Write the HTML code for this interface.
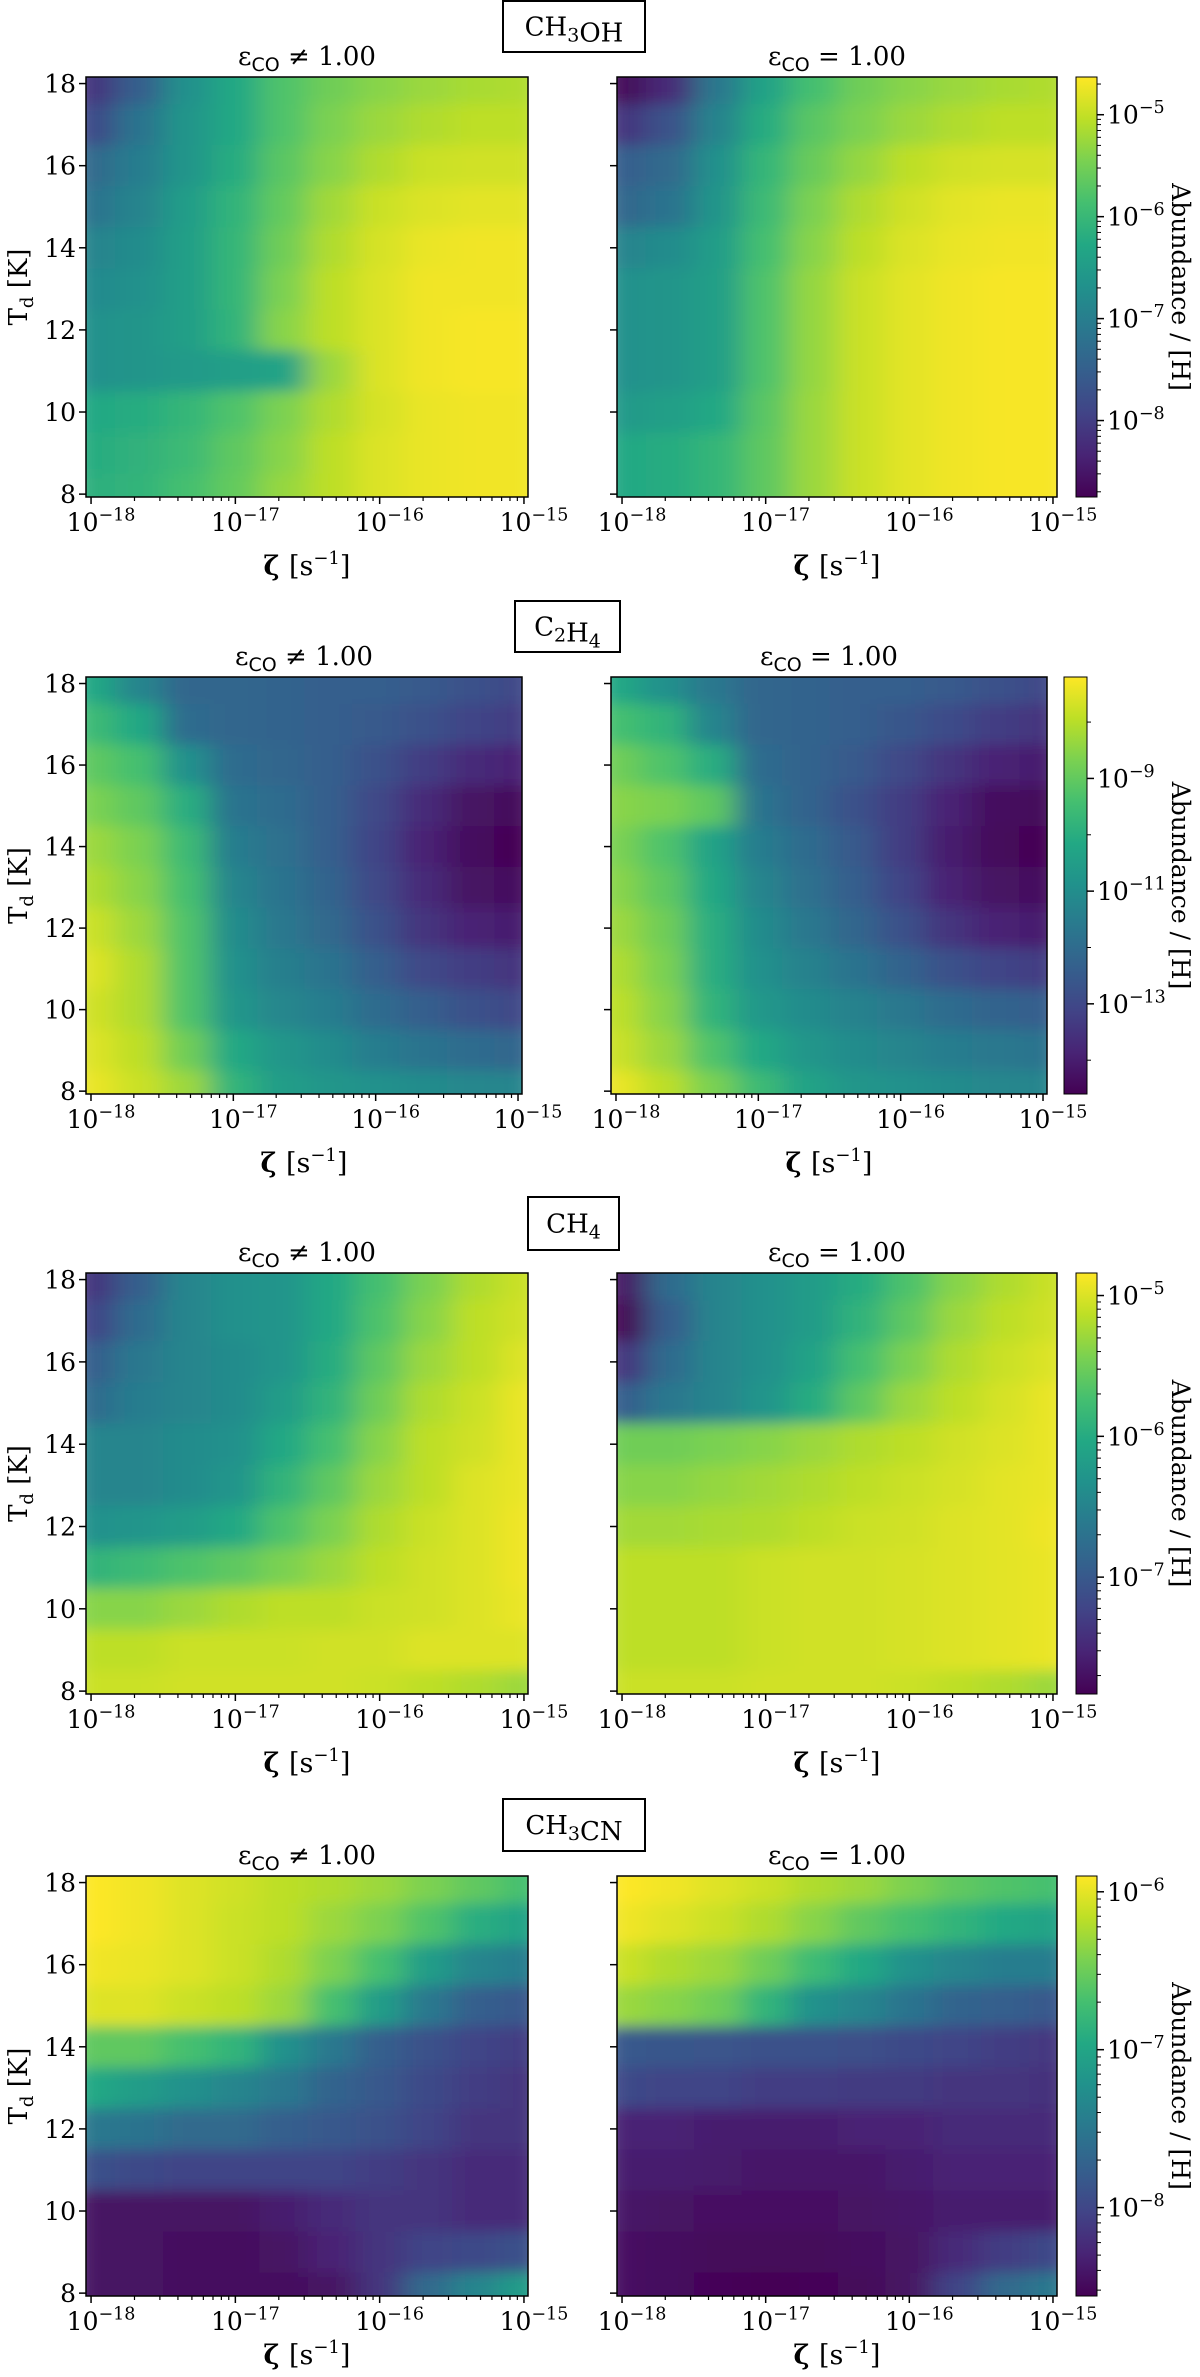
<!DOCTYPE html>
<html><head><meta charset="utf-8"><title>Abundance maps</title>
<style>
html,body{margin:0;padding:0;background:#fff;}
svg{display:block;}
text{font-family:"DejaVu Serif","Liberation Serif",serif;fill:#000;}
.sans{font-family:"DejaVu Sans","Liberation Sans",sans-serif;}
</style></head>
<body>
<svg id="fig" xmlns="http://www.w3.org/2000/svg" width="1200" height="2377" viewBox="0 0 1200 2377">
<defs><filter id="smooth" x="-5%" y="-5%" width="110%" height="110%"><feGaussianBlur stdDeviation="14 7" edgeMode="duplicate"/></filter></defs>
</svg>
<script>
// ---- data ----
const zetaLogCenters = [-18,-17.667,-17.333,-17,-16.667,-16.333,-16,-15.667,-15.333,-15];
const tdCenters = [18,17,16,15,14,13,12,11,10,9,8];
const xTickLogs = [-18,-17,-16,-15];
const xTickLabels = ["−18","−17","−16","−15"];
const yTicks = [8,10,12,14,16,18];
const species = ["CH3OH","C2H4","CH4","CH3CN"];
const cbarMin = [-8.75,-14.6,-7.83,-8.56];
const cbarMax = [-4.63,-7.2,-4.84,-5.9];
const cbarTicks1 = [-8,-7,-6,-5];
const cbarTicks2 = [-13,-11,-9];
const cbarTicks3 = [-7,-6,-5];
const cbarTicks4 = [-8,-7,-6];

// log10 abundance, rows T=18..8, cols log zeta -18..-15
const ch3ohFree = [
[-8.13,-7.51,-6.69,-6.28,-5.78,-5.54,-5.37,-5.25,-5.17,-5.12],
[-7.84,-7.18,-6.61,-6.28,-5.78,-5.45,-5.25,-5.12,-5.04,-5.04],
[-7.31,-7.02,-6.61,-6.2,-5.7,-5.37,-5.12,-4.96,-4.92,-4.92],
[-7.18,-6.9,-6.48,-6.07,-5.62,-5.21,-4.96,-4.84,-4.8,-4.8],
[-6.9,-6.77,-6.44,-6.03,-5.54,-5.12,-4.88,-4.75,-4.71,-4.71],
[-6.81,-6.69,-6.44,-6.03,-5.45,-5.04,-4.84,-4.71,-4.71,-4.71],
[-6.69,-6.61,-6.44,-6.07,-5.37,-5.04,-4.84,-4.71,-4.67,-4.67],
[-6.69,-6.61,-6.53,-6.44,-6.36,-5.25,-4.84,-4.71,-4.67,-4.67],
[-6.28,-6.2,-6.03,-5.78,-5.45,-5.12,-4.88,-4.75,-4.71,-4.71],
[-6.2,-6.11,-5.95,-5.66,-5.37,-5.04,-4.84,-4.75,-4.71,-4.71],
[-6.15,-6.07,-5.87,-5.62,-5.29,-5.04,-4.84,-4.75,-4.71,-4.71]];
const ch3ohFixed = [
[-8.67,-8.26,-7.1,-6.36,-5.87,-5.54,-5.37,-5.25,-5.17,-5.12],
[-8.13,-7.72,-6.9,-6.2,-5.7,-5.45,-5.25,-5.12,-5.04,-5.04],
[-7.51,-7.31,-6.69,-6.03,-5.58,-5.29,-5.04,-4.92,-4.88,-4.88],
[-7.39,-7.18,-6.61,-5.95,-5.45,-5.12,-4.92,-4.8,-4.75,-4.75],
[-6.9,-6.77,-6.48,-5.87,-5.37,-5.04,-4.84,-4.75,-4.71,-4.71],
[-6.69,-6.61,-6.44,-5.78,-5.29,-4.96,-4.8,-4.71,-4.67,-4.67],
[-6.69,-6.61,-6.44,-5.78,-5.29,-4.96,-4.8,-4.71,-4.67,-4.67],
[-6.69,-6.61,-6.44,-5.78,-5.29,-4.96,-4.8,-4.71,-4.67,-4.67],
[-6.53,-6.44,-6.28,-5.7,-5.25,-4.96,-4.8,-4.71,-4.67,-4.67],
[-6.28,-6.2,-6.03,-5.66,-5.25,-4.96,-4.8,-4.71,-4.67,-4.67],
[-6.28,-6.2,-6.03,-5.66,-5.25,-4.96,-4.8,-4.71,-4.67,-4.67]];
const c2h4Free = [
[-10.16,-11.27,-12.16,-12.16,-12.23,-12.38,-12.38,-12.53,-12.75,-12.97],
[-9.57,-10.16,-12.01,-12.16,-12.23,-12.38,-12.53,-12.75,-13.12,-13.27],
[-9.05,-9.42,-10.9,-12.01,-12.16,-12.38,-12.75,-13.27,-13.71,-13.86],
[-8.68,-9.05,-10.01,-11.79,-12.01,-12.38,-12.97,-13.71,-14.23,-14.45],
[-8.31,-8.68,-9.57,-11.49,-11.86,-12.38,-13.12,-13.86,-14.38,-14.6],
[-8.09,-8.53,-9.42,-11.27,-11.79,-12.23,-12.97,-13.71,-14.23,-14.38],
[-7.79,-8.31,-9.27,-11.05,-11.64,-12.08,-12.75,-13.49,-13.86,-14.01],
[-7.57,-8.09,-9.27,-10.9,-11.42,-11.79,-12.38,-12.97,-13.27,-13.49],
[-7.72,-8.09,-9.27,-10.75,-11.2,-11.49,-12.01,-12.38,-12.75,-12.97],
[-7.57,-7.94,-8.83,-10.16,-10.75,-11.05,-11.49,-11.79,-12.01,-12.16],
[-7.42,-7.79,-8.31,-9.79,-10.53,-10.75,-10.9,-11.05,-11.2,-11.27]];
const c2h4Fixed = [
[-10.16,-10.9,-11.64,-12.16,-12.23,-12.38,-12.38,-12.53,-12.75,-12.97],
[-9.42,-9.79,-11.27,-12.16,-12.23,-12.38,-12.6,-12.9,-13.27,-13.49],
[-8.83,-9.27,-10.01,-12.01,-12.23,-12.53,-12.97,-13.49,-13.86,-14.01],
[-8.53,-8.68,-9.05,-11.79,-12.23,-12.75,-13.27,-13.86,-14.38,-14.45],
[-8.68,-9.27,-10.31,-11.49,-12.01,-12.53,-13.27,-14.01,-14.45,-14.6],
[-8.53,-9.05,-10.16,-11.27,-11.86,-12.38,-13.12,-13.86,-14.23,-14.38],
[-8.31,-8.83,-10.01,-11.05,-11.64,-12.16,-12.75,-13.49,-13.86,-14.01],
[-8.09,-8.68,-10.01,-10.9,-11.34,-11.79,-12.23,-12.75,-13.12,-13.27],
[-7.94,-8.53,-9.79,-10.68,-11.05,-11.34,-11.64,-12.01,-12.23,-12.38],
[-7.79,-8.31,-9.27,-10.16,-10.75,-11.05,-11.27,-11.49,-11.64,-11.79],
[-7.42,-7.94,-8.68,-9.57,-10.31,-10.75,-10.9,-11.05,-11.2,-11.27]];
const ch4Free = [
[-7.38,-6.93,-6.48,-6.33,-6.28,-6.04,-5.74,-5.44,-5.2,-5.08],
[-7.23,-6.78,-6.48,-6.33,-6.28,-6.04,-5.68,-5.38,-5.14,-5.05],
[-6.93,-6.63,-6.48,-6.39,-6.28,-5.98,-5.59,-5.29,-5.14,-4.99],
[-6.78,-6.57,-6.48,-6.39,-6.19,-5.89,-5.5,-5.2,-5.08,-4.93],
[-6.48,-6.48,-6.39,-6.33,-6.04,-5.74,-5.38,-5.14,-5.05,-4.93],
[-6.48,-6.48,-6.39,-6.28,-5.89,-5.59,-5.29,-5.14,-4.99,-4.93],
[-6.33,-6.28,-6.19,-6.04,-5.68,-5.44,-5.2,-5.08,-4.99,-4.9],
[-5.89,-5.8,-5.68,-5.59,-5.44,-5.29,-5.14,-5.05,-4.99,-4.9],
[-5.38,-5.38,-5.29,-5.2,-5.14,-5.14,-5.08,-5.05,-4.99,-4.93],
[-5.14,-5.14,-5.08,-5.08,-5.08,-5.05,-5.05,-4.99,-4.99,-4.99],
[-5.08,-5.08,-5.05,-5.05,-5.05,-5.05,-5.08,-5.14,-5.2,-5.29]];
const ch4Fixed = [
[-7.68,-6.78,-6.48,-6.33,-6.19,-5.98,-5.68,-5.38,-5.2,-5.08],
[-7.83,-6.93,-6.48,-6.33,-6.19,-5.89,-5.59,-5.29,-5.14,-5.05],
[-7.38,-6.78,-6.48,-6.33,-6.1,-5.74,-5.44,-5.2,-5.08,-4.99],
[-6.93,-6.63,-6.48,-6.28,-5.98,-5.59,-5.29,-5.14,-5.02,-4.93],
[-5.5,-5.5,-5.44,-5.38,-5.29,-5.2,-5.14,-5.05,-4.99,-4.93],
[-5.38,-5.38,-5.32,-5.26,-5.2,-5.14,-5.08,-5.02,-4.96,-4.93],
[-5.26,-5.26,-5.23,-5.2,-5.14,-5.08,-5.05,-4.99,-4.96,-4.9],
[-5.14,-5.14,-5.14,-5.08,-5.05,-5.05,-5.02,-4.99,-4.96,-4.93],
[-5.14,-5.14,-5.14,-5.08,-5.05,-5.05,-5.02,-4.99,-4.96,-4.93],
[-5.14,-5.14,-5.14,-5.08,-5.05,-5.05,-5.02,-4.99,-4.96,-4.93],
[-5.08,-5.08,-5.08,-5.05,-5.05,-5.05,-5.08,-5.14,-5.2,-5.29]];
const ch3cnFree = [
[-5.9,-5.95,-6.03,-6.09,-6.17,-6.22,-6.3,-6.43,-6.56,-6.7],
[-5.9,-5.95,-6.03,-6.11,-6.17,-6.3,-6.43,-6.64,-6.91,-7.02],
[-5.95,-5.98,-6.03,-6.11,-6.22,-6.43,-6.7,-7.1,-7.36,-7.44],
[-6.03,-6.03,-6.11,-6.17,-6.3,-6.7,-7.1,-7.5,-7.76,-7.82],
[-6.56,-6.56,-6.7,-6.83,-7.23,-7.5,-7.76,-7.9,-8.03,-8.08],
[-6.96,-7.1,-7.23,-7.36,-7.5,-7.71,-7.82,-7.97,-8.08,-8.16],
[-7.5,-7.55,-7.63,-7.63,-7.76,-7.82,-7.9,-8.03,-8.16,-8.16],
[-7.9,-7.97,-8.03,-8.03,-8.03,-8.03,-8.08,-8.16,-8.24,-8.24],
[-8.43,-8.43,-8.43,-8.43,-8.35,-8.24,-8.16,-8.16,-8.24,-8.24],
[-8.43,-8.43,-8.48,-8.48,-8.43,-8.29,-8.16,-8.03,-7.97,-7.9],
[-8.43,-8.43,-8.48,-8.48,-8.48,-8.43,-8.16,-7.63,-7.36,-7.1]];
const ch3cnFixed = [
[-5.9,-5.95,-6.03,-6.11,-6.22,-6.3,-6.43,-6.56,-6.64,-6.7],
[-5.95,-6.03,-6.11,-6.22,-6.38,-6.56,-6.7,-6.83,-6.96,-7.02],
[-6.11,-6.22,-6.3,-6.49,-6.75,-6.96,-7.23,-7.36,-7.44,-7.44],
[-6.3,-6.38,-6.49,-6.83,-7.23,-7.36,-7.55,-7.71,-7.76,-7.82],
[-7.82,-7.84,-7.87,-7.9,-7.9,-7.92,-7.97,-8.03,-8.08,-8.13],
[-7.97,-8.03,-8.03,-8.08,-8.08,-8.11,-8.11,-8.16,-8.16,-8.19],
[-8.29,-8.29,-8.35,-8.35,-8.35,-8.29,-8.29,-8.24,-8.24,-8.24],
[-8.35,-8.35,-8.37,-8.4,-8.4,-8.4,-8.35,-8.29,-8.29,-8.29],
[-8.4,-8.43,-8.45,-8.45,-8.45,-8.43,-8.4,-8.35,-8.35,-8.35],
[-8.45,-8.48,-8.51,-8.51,-8.51,-8.48,-8.43,-8.24,-8.08,-7.97],
[-8.45,-8.48,-8.53,-8.56,-8.53,-8.51,-8.43,-8.03,-7.63,-7.5]];

// ---- layout (pixels, not data) ----
const layout = [
 {top:77,h:420,lx:86,lw:442,rx:617,rw:440,cbx:1076,cbw:21,bx:503,by:1,bw:142,bh:51,xl:78},
 {top:677,h:417,lx:86,lw:436,rx:611,rw:436,cbx:1064,cbw:23,bx:515,by:601,bw:105,bh:51,xl:78},
 {top:1273,h:421,lx:86,lw:442,rx:617,rw:440,cbx:1076,cbw:21,bx:528,by:1197,bw:91,bh:53,xl:78},
 {top:1876,h:420,lx:86,lw:442,rx:617,rw:440,cbx:1076,cbw:21,bx:503,by:1799,bw:142,bh:52,xl:68}];
const gridsFree = [ch3ohFree,c2h4Free,ch4Free,ch3cnFree];
const gridsFixed = [ch3ohFixed,c2h4Fixed,ch4Fixed,ch3cnFixed];
const cbTicksAll = [cbarTicks1,cbarTicks2,cbarTicks3,cbarTicks4];
const xDom = [-18.035,-14.972], yDom = [7.93,18.16];

const NS = "http://www.w3.org/2000/svg";
const svg = document.getElementById('fig');
function mk(tag, attrs, parent){
  const e = document.createElementNS(NS, tag);
  for (const k in attrs) e.setAttribute(k, attrs[k]);
  (parent||svg).appendChild(e);
  return e;
}
const vstops = ["#440154","#482475","#414487","#355f8d","#2a788e","#21918c","#22a884","#44bf70","#7ad151","#bddf26","#fde725"];
function hex(c){return [parseInt(c.slice(1,3),16),parseInt(c.slice(3,5),16),parseInt(c.slice(5,7),16)];}
function viridis(t){
  t=Math.max(0,Math.min(1,t));
  const p=t*10, i=Math.min(9,Math.floor(p)), f=p-i;
  const a=hex(vstops[i]), b=hex(vstops[i+1]);
  return 'rgb('+a.map((v,k)=>Math.round(v+(b[k]-v)*f)).join(',')+')';
}
function supLabel(parent, x, y, exp, anchor, size){
  const t = mk('text',{x:x,y:y,'text-anchor':anchor,'font-size':size},parent);
  t.appendChild(document.createTextNode('10'));
  const s = mk('tspan',{dy:-size*0.42,'font-size':size*0.7},t);
  s.textContent = exp;
  return t;
}

layout.forEach((L, r) => {
  const g = mk('g',{});
  
  
  const box = mk('rect',{x:L.bx,y:L.by,width:L.bw,height:L.bh,fill:'#fff',stroke:'#000','stroke-width':2},g);
  
  
  const st = mk('text',{x:L.bx+L.bw/2,y:L.by+L.bh/2+9,'text-anchor':'middle','font-size':26},g);
  
  
  const parts = species[r].match(/[A-Z][a-z]?|\d+/g);
  parts.forEach(pt => {
    if (/\d/.test(pt)) { const s = mk('tspan',{dy:6,'font-size':19},st); s.textContent=pt; const z=mk('tspan',{dy:-6},st); z.textContent=''; }
    else { const s = mk('tspan',{},st); s.textContent=pt; }
  });

  const lo = cbarMin[r], hi = cbarMax[r];
  [[L.lx,L.lw,gridsFree[r],'free'],[L.rx,L.rw,gridsFixed[r],'fixed']].forEach(([px,pw,grid,kind], pi) => {
    const X = v => px + (v - xDom[0]) / (xDom[1]-xDom[0]) * pw;
    const Y = v => L.top + L.h - (v - yDom[0]) / (yDom[1]-yDom[0]) * L.h;
    const cid = 'clip'+r+'_'+pi;
    const cp = mk('clipPath',{id:cid},g); mk('rect',{x:px,y:L.top,width:pw,height:L.h},cp);
    const outer = mk('g',{'clip-path':'url(#'+cid+')'},g);
    const hm = mk('g',{filter:'url(#smooth)'},outer);
    
    
    const dz = (zetaLogCenters[1]-zetaLogCenters[0])/2;
    tdCenters.forEach((td, j) => {
      zetaLogCenters.forEach((z, i) => {
        const v = grid[j][i];
        const x0 = X(z-dz), x1 = X(z+dz), y0 = Y(td+0.5), y1 = Y(td-0.5);
        const c = mk('rect',{x:x0,y:y0,width:x1-x0+0.6,height:y1-y0+0.6,fill:viridis((v-lo)/(hi-lo))},hm);
        
        
      });
    });
    const fr = mk('rect',{x:px,y:L.top,width:pw,height:L.h,fill:'none',stroke:'#000','stroke-width':1.5},g);
    
    
    const bot = L.top + L.h;
    for (let d=-18; d<-15; d++) for (let k=2;k<=9;k++){
      const xv = X(d+Math.log10(k));
      mk('line',{x1:xv,y1:bot,x2:xv,y2:bot+4,stroke:'#000','stroke-width':1.2},g);
    }
    xTickLogs.forEach((v,i) => {
      const xv = X(v);
      mk('line',{x1:xv,y1:bot,x2:xv,y2:bot+7,stroke:'#000','stroke-width':1.5},g);
      const tl = supLabel(g, xv+10, bot+34, xTickLabels[i], 'middle', 25);
      
      
    });
    yTicks.forEach(v => {
      const yv = Y(v);
      mk('line',{x1:px-7,y1:yv,x2:px,y2:yv,stroke:'#000','stroke-width':1.5},g);
      if (pi===0){
        const yl = mk('text',{x:px-10,y:yv+9,'text-anchor':'end','font-size':25},g);
        yl.textContent = String(v);
        
        
      }
    });
    const pt = mk('text',{x:px+pw/2,y:L.top-12,'text-anchor':'middle','font-size':26},g);
    
    
    const e1 = mk('tspan',{},pt); e1.textContent='ε';
    const e2 = mk('tspan',{dy:6,'font-size':19,class:'sans'},pt); e2.textContent='CO';
    const e3 = mk('tspan',{dy:-6},pt); e3.textContent = kind==='free' ? ' ≠ 1.00' : ' = 1.00';
    const xl = mk('text',{x:px+pw/2,y:bot+L.xl,'text-anchor':'middle','font-size':27},g);
    
    
    const a1 = mk('tspan',{'font-weight':'bold'},xl); a1.textContent='ζ ';
    const a2 = mk('tspan',{},xl); a2.textContent='[s';
    const a3 = mk('tspan',{dy:-11,'font-size':18},xl); a3.textContent='−1';
    const a4 = mk('tspan',{dy:11},xl); a4.textContent=']';
  });
  const cy = L.top + L.h/2;
  const yt = mk('text',{x:0,y:0,'text-anchor':'middle','font-size':26,transform:'translate(27,'+cy+') rotate(-90)'},g);
  
  
  const b1 = mk('tspan',{},yt); b1.textContent='T';
  const b2 = mk('tspan',{dy:6,'font-size':18},yt); b2.textContent='d';
  const b3 = mk('tspan',{dy:-6},yt); b3.textContent=' [K]';
  const CB = mk('g',{},g);
  
  
  const gid = 'cbg'+r;
  const lg = mk('linearGradient',{id:gid,x1:0,y1:1,x2:0,y2:0},CB);
  vstops.forEach((c,i)=>mk('stop',{offset:i/10,'stop-color':c},lg));
  mk('rect',{x:L.cbx,y:L.top,width:L.cbw,height:L.h,fill:'url(#'+gid+')',stroke:'#000','stroke-width':1},CB);
  const CY = v => L.top + L.h - (v-lo)/(hi-lo)*L.h;
  const cxr = L.cbx + L.cbw;
  for (let d=Math.floor(lo); d<=Math.ceil(hi); d++){
    const ks = r===1 ? [1] : [1,2,3,4,5,6,7,8,9];
    ks.forEach(k => {
      const v = d + Math.log10(k);
      if (v<lo || v>hi) return;
      const major = cbTicksAll[r].indexOf(v) >= 0;
      const yy = CY(v);
      mk('line',{x1:cxr,y1:yy,x2:cxr+(major?7:4),y2:yy,stroke:'#000','stroke-width':major?1.5:1},CB);
    });
  }
  cbTicksAll[r].forEach(v => {
    const cl = supLabel(CB, cxr+10, CY(v)+9, '−'+Math.abs(v), 'start', 25);
    
    
  });
  const ct = mk('text',{x:0,y:0,'text-anchor':'middle','font-size':25,transform:'translate(1172,'+cy+') rotate(90)'},CB);
  ct.textContent = 'Abundance / [H]';
  
  
});
</script>
</body></html>
